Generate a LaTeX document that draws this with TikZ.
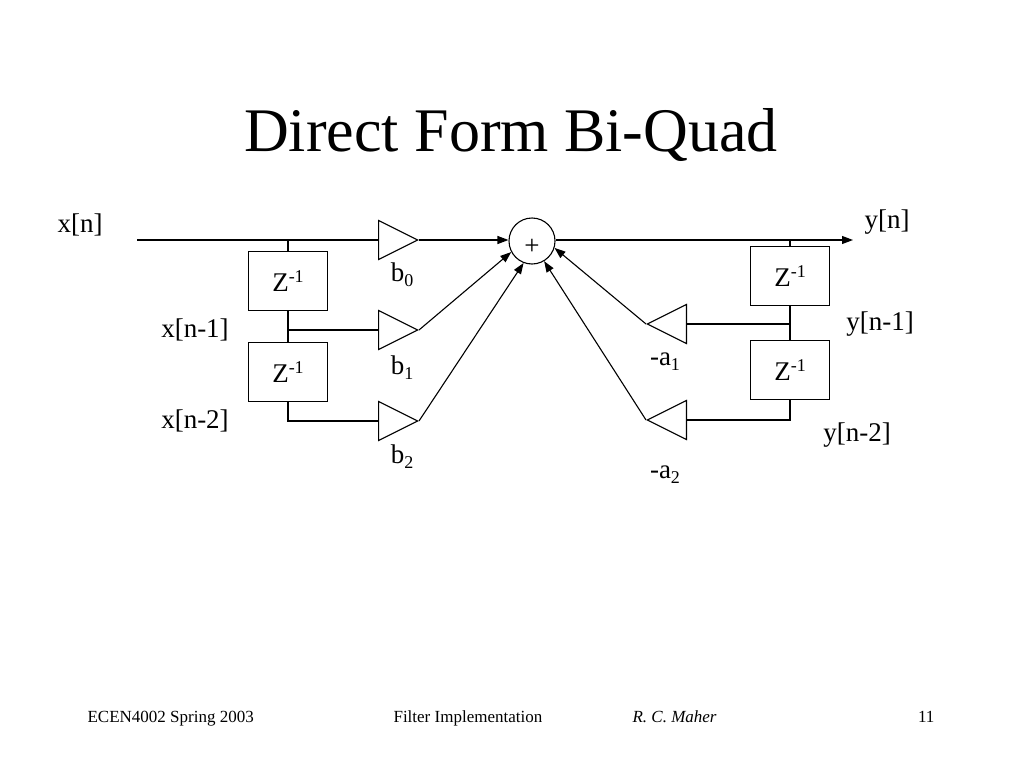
\documentclass[tikz,border=0pt]{standalone}
\usepackage{fontspec}
\setmainfont{Liberation Serif}
\usepackage{tikz}
\usetikzlibrary{shapes.geometric, arrows.meta}

\newcommand{\lowidx}[1]{\raisebox{-5pt}{\fontsize{18}{20}\selectfont #1}}
\newcommand{\highidx}[1]{\raisebox{9pt}{\fontsize{18}{20}\selectfont #1}}

\tikzset{
  delay/.style={draw, rectangle, minimum width=79pt, minimum height=59pt, inner sep=0pt, font=\fontsize{27}{32}\selectfont},
  gain/.style={draw, isosceles triangle, isosceles triangle stretches, minimum width=39pt, minimum height=39pt, inner sep=0pt},
  summer/.style={draw, circle, minimum size=46pt, inner sep=0pt},
  lbl/.style={font=\fontsize{27}{32}\selectfont, inner sep=0pt},
  foot/.style={font=\fontsize{17}{20}\selectfont, inner sep=0pt},
  sig/.style={-{Triangle[length=11pt,width=8pt]}}
}

\begin{document}
\begin{tikzpicture}[x=1pt, y=-1pt, line width=1.1pt]
  \useasboundingbox (0,0) rectangle (1024,768);

  % Title
  \node[font=\fontsize{62}{70}\selectfont] (title) at (511,135) {Direct Form Bi-Quad};

  % Feed-forward side
  \coordinate (xin) at (137,240);
  \coordinate (xtap0) at (288,240);
  \coordinate (xtap1) at (288,330);
  \node[delay] (zx1) at (288,281) {Z\highidx{-1}};
  \node[delay] (zx2) at (288,372) {Z\highidx{-1}};
  \node[gain, anchor=lower side] (b0) at (378,240) {};
  \node[gain, anchor=lower side] (b1) at (378,330) {};
  \node[gain, anchor=lower side] (b2) at (378,421) {};

  % Adder
  \node[summer, label={[lbl, yshift=-6pt]center:+}] (sum) at (532,241) {};

  % Feedback side
  \coordinate (yout) at (853,240);
  \coordinate (ytap0) at (790,240);
  \coordinate (ytap1) at (790,324);
  \node[delay] (zy1) at (790,276) {Z\highidx{-1}};
  \node[delay] (zy2) at (790,370) {Z\highidx{-1}};
  \node[gain, shape border rotate=180, anchor=lower side] (a1) at (687,324) {};
  \node[gain, shape border rotate=180, anchor=lower side] (a2) at (687,420) {};

  % Draw the connections
  \draw (xin) -- (b0.lower side);
  \draw (xtap0) -- (zx1.north);
  \draw (zx1.south) -- (zx2.north);
  \draw (xtap1) -- (b1.lower side);
  \draw (zx2.south) |- (b2.lower side);
  \draw[sig] (b0.apex) -- (b0.apex -| sum.west);
  \draw[sig] (b1.apex) -- (sum.208);
  \draw[sig] (b2.apex) -- (sum.249);
  \draw[sig] (sum.east |- yout) -- (yout);
  \draw (ytap0) -- (zy1.north);
  \draw (zy1.south) -- (zy2.north);
  \draw (ytap1) -- (a1.lower side);
  \draw (zy2.south) |- (a2.lower side);
  \draw[sig] (a1.apex) -- (sum.343);
  \draw[sig] (a2.apex) -- (sum.301);

  % Label the signals and coefficients
  \node[lbl] (lxn) at (80,225) {x[n]};
  \node[lbl] (lxn1) at (195,330) {x[n-1]};
  \node[lbl] (lxn2) at (195,421) {x[n-2]};
  \node[lbl] (lb0) at (402,275) {b\lowidx{0}};
  \node[lbl] (lb1) at (402,368) {b\lowidx{1}};
  \node[lbl] (lb2) at (402,457) {b\lowidx{2}};
  \node[lbl] (lyn) at (887,222) {y[n]};
  \node[lbl] (lyn1) at (880,324) {y[n-1]};
  \node[lbl] (lyn2) at (857,435) {y[n-2]};
  \node[lbl] (la1) at (665,362) {-a\lowidx{1}};
  \node[lbl] (la2) at (665,475) {-a\lowidx{2}};

  % Footer
  \node[foot, anchor=base west] (fcourse) at (87,722) {ECEN4002 Spring 2003};
  \node[foot, anchor=base west] (ftopic) at (393,722) {Filter Implementation};
  \node[foot, anchor=base west] (fauthor) at (632,722) {\itshape R. C. Maher};
  \node[foot, anchor=base east] (fpage) at (935,722) {11};
\end{tikzpicture}
\end{document}
